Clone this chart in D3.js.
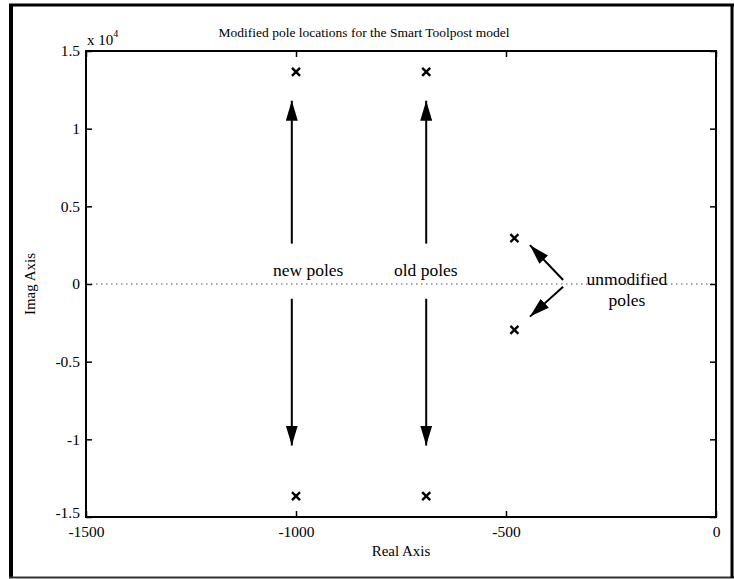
<!DOCTYPE html>
<html>
<head>
<meta charset="utf-8">
<script src="https://cdn.jsdelivr.net/npm/d3@7"></script>
<style>
  html, body { margin: 0; padding: 0; background: #fff; }
  svg { display: block; }
  text { font-family: "Liberation Serif", "Times New Roman", serif; fill: #000; }
</style>
</head>
<body>
<svg id="chart" width="734" height="579"></svg>
<script>
// Pole locations (real part, imaginary part)
const poleReal = [-1000, -1000, -690, -690, -480, -480];
const poleImag = [13650, -13650, 13650, -13650, 2950, -2950];

// Axis ticks
const xTicks = [-1500, -1000, -500, 0];
const xTickLabels = ["-1500", "-1000", "-500", "0"];
const yTicks = [-15000, -10000, -5000, 0, 5000, 10000, 15000];
const yTickLabels = ["-1.5", "-1", "-0.5", "0", "0.5", "1", "1.5"];

// Annotation arrows in data units: [x1, y1, x2, y2], head at (x2, y2)
const arrowX1 = [-1010, -1010, -690, -690, -364, -364];
const arrowY1 = [2600, -950, 2600, -950, 260, -170];
const arrowX2 = [-1010, -1010, -690, -690, -443, -443];
const arrowY2 = [11800, -10400, 11800, -10400, 2500, -2100];

// Annotation labels in data units (text centre, baseline)
const noteText = ["new poles", "old poles", "unmodified", "poles"];
const noteX = [-971, -691, -212, -212];
const noteY = [515, 515, -90, -1440];

const svg = d3.select("#chart");

const x = d3.scaleLinear().domain([-1500, 0]).range([86, 716]);
const y = d3.scaleLinear().domain([-15000, 15000]).range([517, 51]);

// Outer frame
svg.append("line").attr("x1", 11).attr("x2", 11).attr("y1", 4).attr("y2", 578)
  .attr("stroke", "#000").attr("stroke-width", 4);
svg.append("line").attr("x1", 9).attr("x2", 734).attr("y1", 5).attr("y2", 5)
  .attr("stroke", "#000").attr("stroke-width", 3);
svg.append("line").attr("x1", 9).attr("x2", 734).attr("y1", 577.5).attr("y2", 577.5)
  .attr("stroke", "#333").attr("stroke-width", 2);
svg.append("line").attr("x1", 732).attr("x2", 732).attr("y1", 4).attr("y2", 578)
  .attr("stroke", "#000").attr("stroke-width", 3);

// Dotted zero line
svg.append("line")
  .attr("x1", x(-1500)).attr("x2", x(0))
  .attr("y1", y(0)).attr("y2", y(0))
  .attr("stroke", "#555").attr("stroke-width", 1)
  .attr("stroke-dasharray", "1.5,3.5");

// Axes with inward ticks on all four sides
const axisStyle = g => {
  g.select(".domain").remove();
  g.selectAll(".tick line").attr("stroke", "#000").attr("stroke-width", 1.5);
  g.selectAll("text").attr("font-size", 15.5).attr("font-family", "Liberation Serif");
};

svg.append("g").attr("transform", `translate(0,${y(-15000)})`)
  .call(d3.axisBottom(x).tickValues(xTicks).tickSize(-6).tickSizeOuter(0).tickPadding(9)
    .tickFormat((d, i) => xTickLabels[i]))
  .call(axisStyle);
svg.append("g").attr("transform", `translate(0,${y(15000)})`)
  .call(d3.axisTop(x).tickValues(xTicks).tickSize(-6).tickSizeOuter(0).tickFormat(""))
  .call(axisStyle);
const yAxisG = svg.append("g").attr("transform", `translate(${x(-1500)},0)`)
  .call(d3.axisLeft(y).tickValues(yTicks).tickSize(-6).tickSizeOuter(0).tickPadding(6)
    .tickFormat((d, i) => yTickLabels[i]))
  .call(axisStyle);
// lift the lowest label clear of the x-axis labels
yAxisG.selectAll(".tick text").filter(d => d === -15000).attr("dy", "0.05em");
svg.append("g").attr("transform", `translate(${x(0)},0)`)
  .call(d3.axisRight(y).tickValues(yTicks).tickSize(-6).tickSizeOuter(0).tickFormat(""))
  .call(axisStyle);

// Plot box
svg.append("rect")
  .attr("x", x(-1500)).attr("y", y(15000))
  .attr("width", x(0) - x(-1500)).attr("height", y(-15000) - y(15000))
  .attr("fill", "none").attr("stroke", "#000").attr("stroke-width", 2);

// Exponent label
const expo = svg.append("text").attr("x", x(-1500) + 1).attr("y", y(15000) - 6)
  .attr("font-size", 15);
expo.append("tspan").text("x 10");
expo.append("tspan").attr("dy", -8).attr("font-size", 10).text("4");

// Title and axis labels
svg.append("text").attr("x", 364).attr("y", 37).attr("text-anchor", "middle")
  .attr("font-size", 13.5).text("Modified pole locations for the Smart Toolpost model");
svg.append("text").attr("x", (x(-1500) + x(0)) / 2).attr("y", 556)
  .attr("text-anchor", "middle").attr("font-size", 15).text("Real Axis");
svg.append("text")
  .attr("transform", `translate(35,${y(0)}) rotate(-90)`)
  .attr("text-anchor", "middle").attr("font-size", 15).text("Imag Axis");

// Pole markers (x)
const poles = poleReal.map((r, i) => ({ r, im: poleImag[i] }));
svg.append("g").selectAll("path").data(poles).join("path")
  .attr("transform", d => `translate(${x(d.r)},${y(d.im)})`)
  .attr("d", "M-4,-4L4,4M-4,4L4,-4")
  .attr("stroke", "#000").attr("stroke-width", 2.4).attr("fill", "none");

// Arrowhead
svg.append("defs").append("marker")
  .attr("id", "head").attr("viewBox", "0 -6 20 12")
  .attr("refX", 20).attr("refY", 0)
  .attr("markerWidth", 20).attr("markerHeight", 12)
  .attr("markerUnits", "userSpaceOnUse").attr("orient", "auto")
  .append("path").attr("d", "M0,-6L20,0L0,6Z").attr("fill", "#000");

const arrows = arrowX1.map((x1, i) => ({ x1, y1: arrowY1[i], x2: arrowX2[i], y2: arrowY2[i] }));
svg.append("g").selectAll("line").data(arrows).join("line")
  .attr("x1", d => x(d.x1)).attr("y1", d => y(d.y1))
  .attr("x2", d => x(d.x2)).attr("y2", d => y(d.y2))
  .attr("stroke", "#000").attr("stroke-width", 2)
  .attr("marker-end", "url(#head)");

// Annotation text
svg.append("g").selectAll("text").data(noteText).join("text")
  .attr("x", (d, i) => x(noteX[i])).attr("y", (d, i) => y(noteY[i]))
  .attr("text-anchor", "middle").attr("font-size", 17.5)
  .text(d => d);
</script>
</body>
</html>
